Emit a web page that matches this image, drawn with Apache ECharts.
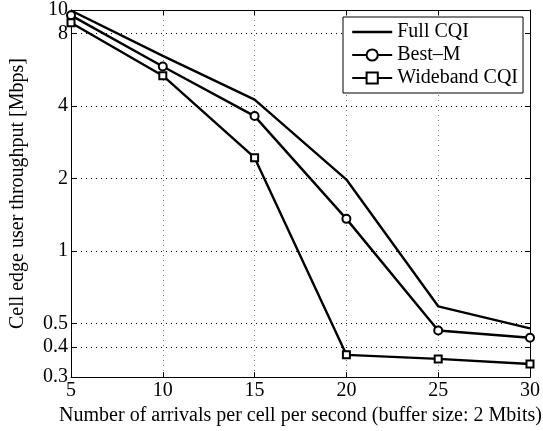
<!DOCTYPE html>
<html><head><meta charset="utf-8">
<script src="https://cdn.jsdelivr.net/npm/echarts@6/dist/echarts.min.js"></script>
<style>html,body{margin:0;padding:0;background:#fff}#c{width:543px;height:431px}</style>
</head><body><div id="c"></div>
<script>
const arrivals = [5, 10, 15, 20, 25, 30];
const fullCQI = [9.95, 6.45, 4.25, 1.98, 0.59, 0.478];
const bestM = [9.5, 5.83, 3.63, 1.36, 0.468, 0.437];
const widebandCQI = [8.85, 5.34, 2.44, 0.371, 0.357, 0.340];
const yTicks = [0.3, 0.4, 0.5, 1, 2, 4, 8, 10];
const xTicks = [5, 10, 15, 20, 25, 30];

const font = 'Liberation Serif';
const chart = echarts.init(document.getElementById('c'));
const pair = (xs, ys) => xs.map((x, i) => [x, ys[i]]);
const lineStyle = { color: '#000', width: 2.4 };
chart.setOption({
  animation: false,
  backgroundColor: '#fff',
  grid: { left: 62, right: 11, top: 10, bottom: 52, containLabel: false },
  legend: {
    orient: 'vertical', left: 343, top: 17,
    padding: [5, 5, 5, 8], itemGap: 3, itemWidth: 40, itemHeight: 14,
    borderColor: '#000', borderWidth: 1, backgroundColor: '#fff',
    textStyle: { fontFamily: font, fontSize: 20, color: '#000' },
    data: [
      { name: 'Full CQI', itemStyle: { color: 'transparent', borderWidth: 0 }, lineStyle: { color: '#000', width: 2.4 } },
      'Best\u2013M', 'Wideband CQI']
  },
  xAxis: [{
    type: 'value', min: 5, max: 30, interval: 5,
    name: 'Number of arrivals per cell per second (buffer size: 2 Mbits)',
    nameLocation: 'middle', nameGap: 28,
    nameTextStyle: { fontFamily: font, fontSize: 20, color: '#000' },
    axisLine: { lineStyle: { color: '#000', width: 1 } },
    axisTick: { inside: true, length: 5, lineStyle: { color: '#000' } },
    axisLabel: { fontFamily: font, fontSize: 20, color: '#000', margin: 4 },
    splitLine: { show: true, lineStyle: { color: '#777', type: [1, 4], width: 1 } }
  }, {
    type: 'value', min: 5, max: 30, interval: 5, position: 'top',
    axisLine: { lineStyle: { color: '#000', width: 1 } },
    axisTick: { inside: true, length: 5, lineStyle: { color: '#000' } },
    axisLabel: { show: false }, splitLine: { show: false }
  }],
  yAxis: [{
    type: 'log', min: 0.3, max: 10, logBase: 10,
    name: 'Cell edge user throughput [Mbps]',
    nameLocation: 'middle', nameGap: 43,
    nameTextStyle: { fontFamily: font, fontSize: 20, color: '#000' },
    axisLine: { lineStyle: { color: '#000', width: 1 } },
    axisTick: { inside: true, length: 5, customValues: yTicks, lineStyle: { color: '#000' } },
    axisLabel: { fontFamily: font, fontSize: 20, color: '#000', margin: 3, customValues: yTicks,
      formatter: v => String(+(+v).toFixed(2)) },
    splitLine: { show: true, lineStyle: { color: '#000', type: [1, 4], width: 1 } },
    minorTick: { show: false }
  }, {
    type: 'log', min: 0.3, max: 10, position: 'right',
    axisLine: { show: true, lineStyle: { color: '#000', width: 1 } },
    axisTick: { show: true, inside: true, length: 5, customValues: yTicks, lineStyle: { color: '#000' } },
    axisLabel: { show: false }, splitLine: { show: false }
  }],
  series: [
    { name: 'Full CQI', type: 'line', data: pair(arrivals, fullCQI), symbol: 'none',
      lineStyle: lineStyle, itemStyle: { color: '#000' } },
    { name: 'Best\u2013M', type: 'line', data: pair(arrivals, bestM), symbol: 'circle', symbolSize: 8,
      lineStyle: lineStyle, itemStyle: { color: '#fff', borderColor: '#000', borderWidth: 2 } },
    { name: 'Wideband CQI', type: 'line', data: pair(arrivals, widebandCQI), symbol: 'rect', symbolSize: 7,
      lineStyle: lineStyle, itemStyle: { color: '#fff', borderColor: '#000', borderWidth: 2 } }
  ]
});
</script></body></html>
